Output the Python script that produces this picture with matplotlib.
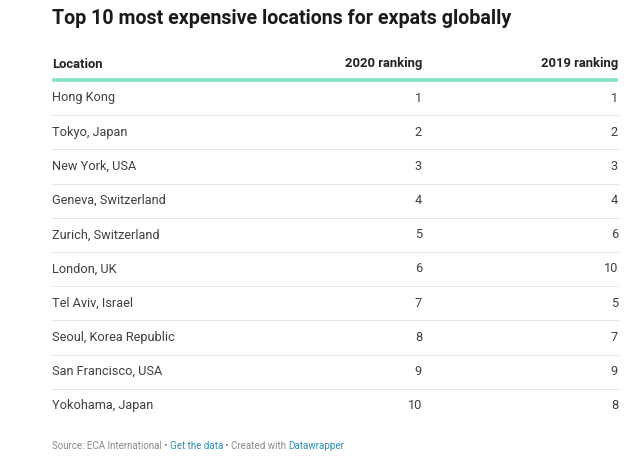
import matplotlib.pyplot as plt

plt.rcParams['font.family'] = ['Roboto', 'DejaVu Sans']

# Table data
title = "Top 10 most expensive locations for expats globally"
columns = ["Location", "2020 ranking", "2019 ranking"]
locations = ["Hong Kong", "Tokyo, Japan", "New York, USA", "Geneva, Switzerland",
             "Zurich, Switzerland", "London, UK", "Tel Aviv, Israel",
             "Seoul, Korea Republic", "San Francisco, USA", "Yokohama, Japan"]
rank_2020 = [1, 2, 3, 4, 5, 6, 7, 8, 9, 10]
rank_2019 = [1, 2, 3, 4, 6, 10, 5, 7, 9, 8]
footer_parts = [("Source: ECA International • ", "#8a8a8a"),
                ("Get the data", "#2d8fb0"),
                (" • Created with ", "#8a8a8a"),
                ("Datawrapper", "#2d8fb0")]

W, H = 640, 463
fig = plt.figure(figsize=(W / 100, H / 100), dpi=100)
ax = fig.add_axes([0, 0, 1, 1])
ax.set_xlim(0, W)
ax.set_ylim(H, 0)
ax.axis("off")

left, right = 52, 618
col2_right = 422
row0, row_h = 98, 34.2

ax.text(left, 18, title, fontsize=14.1, fontweight="bold", color="#1a1a1a", va="center")

# header
for txt, x, ha in [(columns[0], left, "left"), (columns[1], col2_right, "right"), (columns[2], right, "right")]:
    ax.text(x, 64, txt, fontsize=9.4, fontweight="bold", color="#222222", va="center", ha=ha)
ax.plot([left, right], [80, 80], color="#84e3c9", lw=2.6, solid_capstyle="butt")

# rows
for i, (loc, r20, r19) in enumerate(zip(locations, rank_2020, rank_2019)):
    y = row0 + i * row_h
    ax.text(left, y, loc, fontsize=9.2, color="#404040", va="center")
    ax.text(col2_right, y, str(r20), fontsize=9.2, color="#404040", va="center", ha="right")
    ax.text(right, y, str(r19), fontsize=9.2, color="#404040", va="center", ha="right")
    if i < len(locations) - 1:
        ax.plot([left, right], [y + row_h / 2, y + row_h / 2], color="#e8e8e8", lw=0.8)

# footer with coloured links
fig.canvas.draw()
renderer = fig.canvas.get_renderer()
x = left
for txt, col in footer_parts:
    t = ax.text(x, 446, txt, fontsize=7.0, color=col, va="center")
    bb = t.get_window_extent(renderer=renderer)
    x += bb.width

fig.savefig("out.png", dpi=100, facecolor="white")
